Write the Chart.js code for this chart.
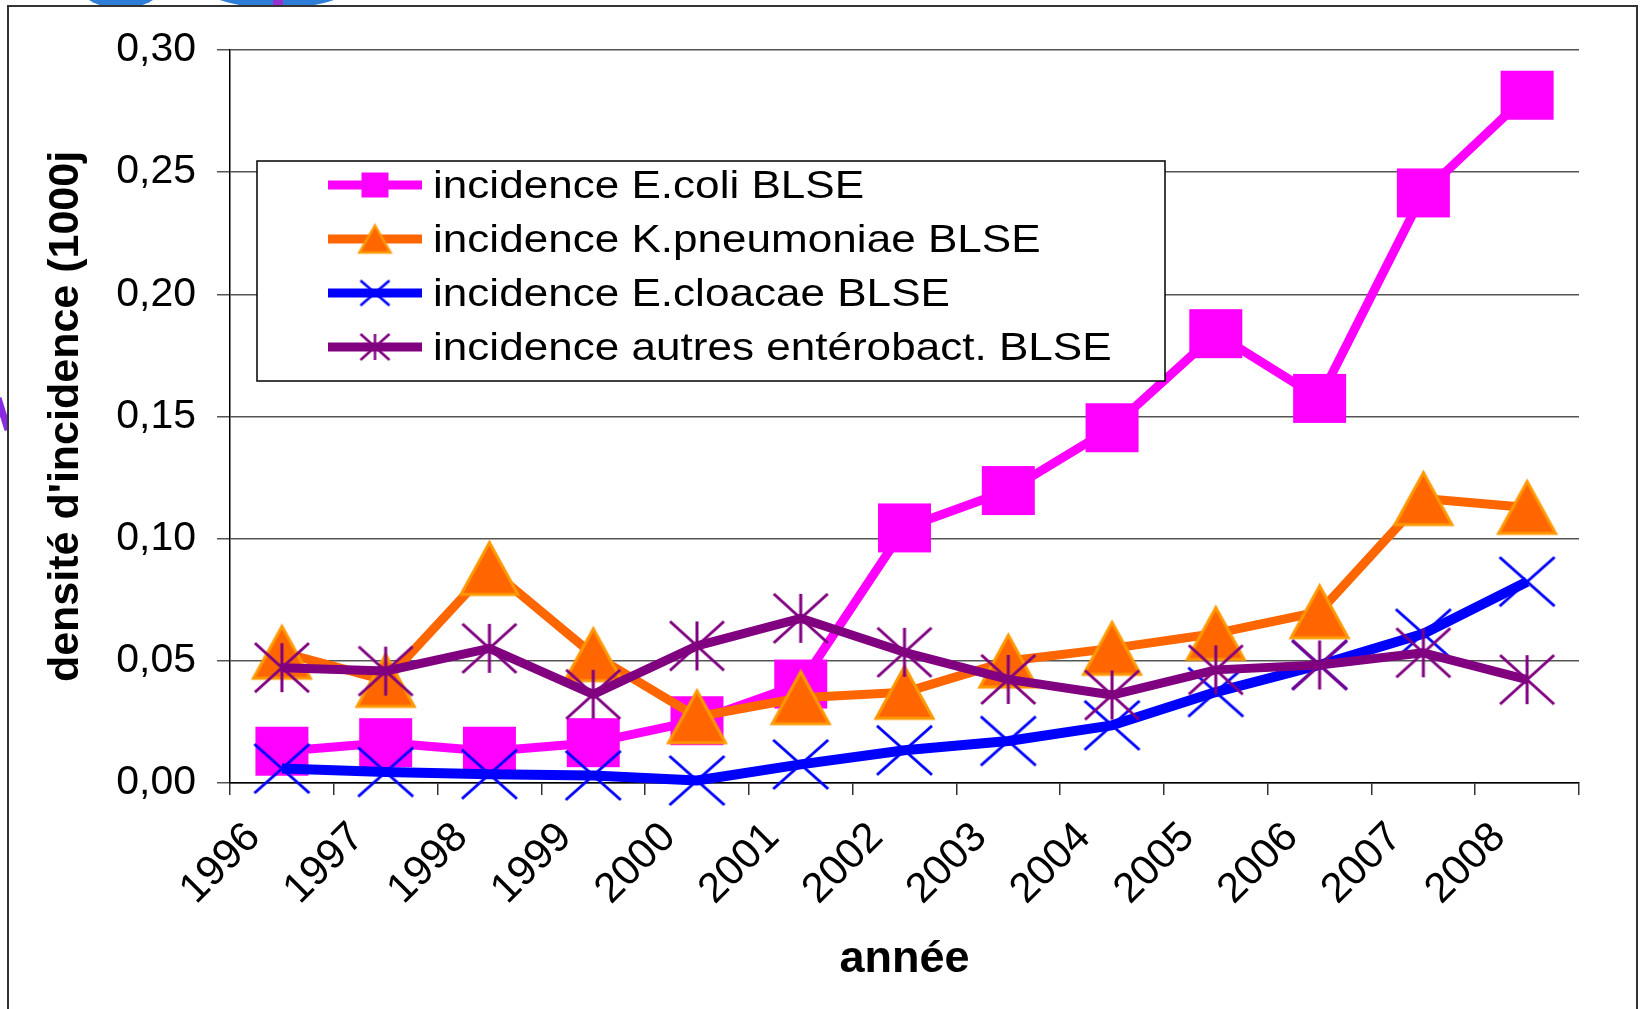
<!DOCTYPE html>
<html>
<head>
<meta charset="utf-8">
<title>densité d'incidence BLSE</title>
<script src="https://cdn.jsdelivr.net/npm/chart.js@4/dist/chart.umd.min.js"></script>
<style>
  html, body { margin: 0; padding: 0; background: #fff; }
  canvas { display: block; }
</style>
</head>
<body>
<canvas id="chart" width="1640" height="1009"></canvas>
<script>
// data
const years = ["1996", "1997", "1998", "1999", "2000", "2001", "2002", "2003", "2004", "2005", "2006", "2007", "2008"];
const ecoli = [0.013, 0.0165, 0.013, 0.0165, 0.0255, 0.0405, 0.1044, 0.1197, 0.1454, 0.1839, 0.1574, 0.2415, 0.2815];
const kpneumoniae = [0.0535, 0.042, 0.0878, 0.0525, 0.0271, 0.0349, 0.0371, 0.0499, 0.0551, 0.0612, 0.0701, 0.1164, 0.1128];
const ecloacae = [0.0059, 0.0045, 0.0036, 0.0031, 0.001, 0.0076, 0.0134, 0.0172, 0.0236, 0.0372, 0.0483, 0.0611, 0.0824];
const autres = [0.0472, 0.0458, 0.0551, 0.0363, 0.0561, 0.0674, 0.0535, 0.0424, 0.036, 0.0463, 0.0483, 0.0533, 0.0423];
const seriesNames = [
  "incidence E.coli BLSE",
  "incidence K.pneumoniae BLSE",
  "incidence E.cloacae BLSE",
  "incidence autres entérobact. BLSE"
];
const yTickLabels = ["0,00", "0,05", "0,10", "0,15", "0,20", "0,25", "0,30"];

const FONT = "'Liberation Sans', Arial, sans-serif";

// marker pictures (excel style markers are centred on their box)
function markerCanvas(kind, w, h, lw) {
  const pad = Math.ceil(lw) + 1;
  const c = document.createElement("canvas");
  c.width = w + 2 * pad;
  c.height = h + 2 * pad;
  const g = c.getContext("2d");
  g.translate(pad, pad);
  g.lineWidth = lw;
  if (kind === "square") {
    g.fillStyle = "#FF00FF";
    g.fillRect(0, 0, w, h);
  } else if (kind === "triangle") {
    g.beginPath();
    g.moveTo(w / 2, 0);
    g.lineTo(w, h);
    g.lineTo(0, h);
    g.closePath();
    g.fillStyle = "#FF6600";
    g.fill();
    g.strokeStyle = "#FF9900";
    g.stroke();
  } else {
    g.strokeStyle = kind === "cross" ? "#0000FF" : "#800080";
    g.beginPath();
    g.moveTo(0, 0); g.lineTo(w, h);
    g.moveTo(w, 0); g.lineTo(0, h);
    if (kind === "star") { g.moveTo(w / 2, 0); g.lineTo(w / 2, h); }
    g.stroke();
  }
  return c;
}

const markers = [
  markerCanvas("square", 53, 49, 0),
  markerCanvas("triangle", 57, 52, 3),
  markerCanvas("cross", 55, 49, 3),
  markerCanvas("star", 54, 49, 3)
];
const legendMarkers = [
  markerCanvas("square", 27, 25, 0),
  markerCanvas("triangle", 31, 27, 2.5),
  markerCanvas("cross", 29, 25, 2.5),
  markerCanvas("star", 29, 26, 2.5)
];
const colors = ["#FF00FF", "#FF6600", "#0000FF", "#800080"];
const lineWidths = [9, 9, 10, 9];

// white page, outer frame and bits of the logo sticking out
const framePlugin = {
  id: "frame",
  beforeDraw(chart) {
    const ctx = chart.ctx;
    ctx.save();
    ctx.fillStyle = "#fff";
    ctx.fillRect(0, 0, chart.width, chart.height);
    ctx.fillStyle = "#2E7DD6";
    ctx.beginPath();
    ctx.ellipse(121, -12, 40, 20, 0, 0, Math.PI * 2);
    ctx.fill();
    ctx.beginPath();
    ctx.ellipse(277, -14, 74, 22, 0, 0, Math.PI * 2);
    ctx.fill();
    ctx.fillStyle = "#9B30D0";
    ctx.fillRect(273, 0, 10, 6);
    ctx.strokeStyle = "#8A2BE2";
    ctx.lineWidth = 7;
    ctx.beginPath();
    ctx.moveTo(-2, 398);
    ctx.lineTo(8, 430);
    ctx.stroke();
    ctx.fillStyle = "#fff";
    ctx.fillRect(8, 6, chart.width - 11, chart.height);
    ctx.strokeStyle = "#333";
    ctx.lineWidth = 2;
    ctx.strokeRect(8, 6, chart.width - 11, chart.height + 10);
    ctx.restore();
  }
};

// boxed legend inside the plot area
const boxLegend = {
  id: "boxLegend",
  afterDraw(chart) {
    const ctx = chart.ctx;
    const area = chart.chartArea;
    const bx = area.left + 27, by = area.top + 111, bw = 908, bh = 220;
    ctx.save();
    ctx.fillStyle = "#fff";
    ctx.fillRect(bx, by, bw, bh);
    ctx.strokeStyle = "#000";
    ctx.lineWidth = 1.5;
    ctx.strokeRect(bx, by, bw, bh);
    chart.data.datasets.forEach((ds, i) => {
      const y = by + 24 + i * 54;
      ctx.strokeStyle = ds.borderColor;
      ctx.lineWidth = 9;
      ctx.beginPath();
      ctx.moveTo(bx + 71, y);
      ctx.lineTo(bx + 165, y);
      ctx.stroke();
      const m = legendMarkers[i];
      ctx.drawImage(m, bx + 118 - m.width / 2, y - m.height / 2);
      ctx.save();
      ctx.translate(bx + 176, y + 13);
      ctx.scale(1.13, 1);
      ctx.fillStyle = "#000";
      ctx.font = "39px " + FONT;
      ctx.textBaseline = "alphabetic";
      ctx.fillText(ds.label, 0, 0);
      ctx.restore();
    });
    ctx.restore();
  }
};

const seriesData = [ecoli, kpneumoniae, ecloacae, autres];
const datasets = seriesData.map((vals, i) => ({
  label: seriesNames[i],
  data: vals,
  borderColor: colors[i],
  backgroundColor: colors[i],
  borderWidth: lineWidths[i],
  borderJoinStyle: "round",
  tension: 0,
  pointStyle: markers[i],
  pointRadius: 20,
  pointHoverRadius: 20,
  clip: false,
  order: 4 - i
}));

new Chart(document.getElementById("chart"), {
  type: "line",
  data: { labels: years, datasets: datasets },
  plugins: [framePlugin, boxLegend],
  options: {
    responsive: false,
    animation: false,
    events: [],
    layout: { padding: { left: 40, right: 61, top: 50, bottom: 22 } },
    plugins: { legend: { display: false }, tooltip: { enabled: false } },
    scales: {
      x: {
        offset: true,
        grid: { offset: true, drawOnChartArea: false, drawTicks: true, tickLength: 12, color: "#333", lineWidth: 1.5 },
        border: { color: "#000", width: 1.5 },
        ticks: {
          autoSkip: false,
          minRotation: 45,
          maxRotation: 45,
          labelOffset: -28,
          padding: 18,
          color: "#000",
          font: { family: FONT, size: 42 }
        },
        title: {
          display: true,
          text: "année",
          color: "#000",
          padding: 0,
          font: { family: FONT, size: 45, weight: "bold" }
        },
        afterFit(scale) { scale.height = 204; }
      },
      y: {
        min: 0,
        max: 0.3,
        grid: { color: "#555", lineWidth: 1.5, tickLength: 13, drawTicks: true },
        border: { color: "#000", width: 1.5 },
        ticks: {
          stepSize: 0.05,
          padding: 21,
          color: "#000",
          font: { family: FONT, size: 41 },
          callback: (value, index) => yTickLabels[index]
        },
        title: {
          display: true,
          text: "densité d'incidence (1000j",
          color: "#000",
          padding: 0,
          font: { family: FONT, size: 43, weight: "bold" }
        },
        afterFit(scale) { scale.width = 190; }
      }
    }
  }
});
</script>
</body>
</html>
